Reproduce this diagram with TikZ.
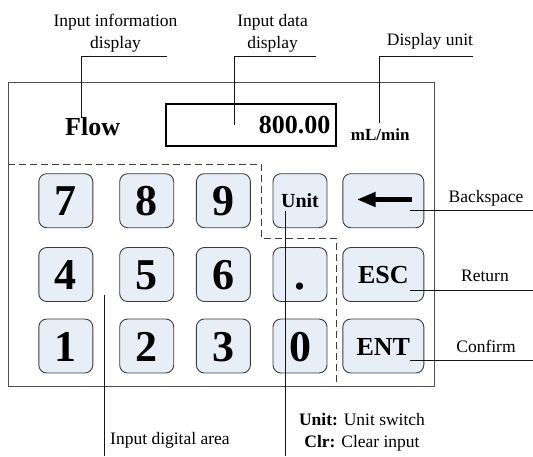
\documentclass[tikz,border=0pt]{standalone}
\usepackage{fontspec}
\setmainfont{Liberation Serif}
\usetikzlibrary{arrows.meta}
\definecolor{keyfill}{RGB}{232,238,248}
\definecolor{keyline}{RGB}{60,60,60}
\definecolor{frameline}{RGB}{80,80,80}
\definecolor{leadline}{RGB}{20,20,20}
\begin{document}
\begin{tikzpicture}[x=1pt,y=-1pt,
  key/.style={draw=keyline, fill=keyfill, rounded corners=8pt, line width=0.9pt,
    minimum width=54pt, minimum height=54pt, inner sep=0pt},
  digit/.style={key, font=\fontsize{44}{44}\selectfont\bfseries, text height=30pt, text depth=0pt},
  wordkey/.style={key, font=\fontsize{26}{26}\selectfont\bfseries, text height=18pt, text depth=0pt},
  lbl/.style={font=\fontsize{17.5}{22}\selectfont, inner sep=0pt, align=center},
  lead/.style={draw=leadline, line width=0.8pt},
  dashline/.style={draw=keyline, line width=0.9pt, dash pattern=on 7pt off 4pt},
  ]
\useasboundingbox (0,0) rectangle (533,456);
% panel frame
\node[draw=frameline, line width=1pt, minimum width=426pt, minimum height=304.2pt, inner sep=0pt]
  (panel) at (221.3,234.4) {};
% dashed area boundary
\draw[dashline] (8.3,164) -- (261.7,164) -- (261.7,238.3) -- (336,238.3) -- (336,386.5);
% display
\node[draw, line width=1.4pt, minimum width=170pt, minimum height=42pt, inner sep=0pt]
  (disp) at (251,125) {};
\node[anchor=base east, inner sep=0pt, font=\fontsize{26}{26}\selectfont\bfseries] (val) at (330.5,133.5) {800.00};
\node[anchor=base west, inner sep=0pt, font=\fontsize{26}{26}\selectfont\bfseries] (flow) at (65,135.5) {Flow};
\node[anchor=base west, inner sep=0pt, font=\fontsize{17}{17}\selectfont\bfseries] (munit) at (350.7,140) {mL/min};
% keys
\node[digit] (k7) at (65.8,200.7) {7};
\node[digit] (k8) at (146.7,200.7) {8};
\node[digit] (k9) at (223.4,200.7) {9};
\node[key, font=\fontsize{20}{20}\selectfont\bfseries, text height=14pt, text depth=0pt] (kunit) at (300,200.7) {Unit};
\node[key, minimum width=81pt] (kback) at (383.3,200.7) {};
\node[digit] (k4) at (65.8,274.5) {4};
\node[digit] (k5) at (146.7,274.5) {5};
\node[digit] (k6) at (223.4,274.5) {6};
\node[digit] (kdot) at (300,274.5) {.};
\node[wordkey, minimum width=81pt] (kesc) at (383.3,274.5) {ESC};
\node[digit] (k1) at (65.8,346) {1};
\node[digit] (k2) at (146.7,346) {2};
\node[digit] (k3) at (223.4,346) {3};
\node[digit] (k0) at (300,346) {0};
\node[wordkey, minimum width=81pt] (kent) at (383.3,346) {ENT};
% backspace arrow
\draw[line width=5.8pt, -{Triangle[length=19pt,width=14pt]}]
  ([xshift=29pt,yshift=1.2pt]kback.center) -- ([xshift=-26.6pt,yshift=1.2pt]kback.center);
% labels
\node[lbl] (tinfo) at (115.5,33) {Input information\\display};
\node[lbl] (tdata) at (272.6,33) {Input data\\display};
\node[lbl] (tunit) at (430,41) {Display unit};
\node[lbl] (tback) at (486,198) {Backspace};
\node[lbl] (tret) at (485,276) {Return};
\node[lbl] (tconf) at (486,346) {Confirm};
\node[lbl, anchor=west] (tarea) at (110,440) {Input digital area};
\node[lbl] (tfunc) at (362,432) {\textbf{Unit:} Unit switch\\\textbf{Clr:} Clear input};
% leader points
\coordinate (a1) at (81.7,118);  \coordinate (b1) at (166.5,56);
\coordinate (a2) at (234.5,125); \coordinate (b2) at (316,56);
\coordinate (a3) at (379,123.3); \coordinate (b3) at (473,56);
\coordinate (a4) at (410,210);   \coordinate (b4) at (533,210);
\coordinate (a5) at (410,290);   \coordinate (b5) at (533,290);
\coordinate (a6) at (410,360.5); \coordinate (b6) at (533,360.5);
\coordinate (a7) at (104,295);   \coordinate (b7) at (104,456);
\coordinate (a8) at (285,211);   \coordinate (b8) at (285,456);
% leaders
\draw[lead] (a1) |- (b1);
\draw[lead] (a2) |- (b2);
\draw[lead] (a3) |- (b3);
\draw[lead] (a4) -- (b4);
\draw[lead] (a5) -- (b5);
\draw[lead] (a6) -- (b6);
\draw[lead] (a7) -- (b7);
\draw[lead] (a8) -- (b8);
\end{tikzpicture}
\end{document}
